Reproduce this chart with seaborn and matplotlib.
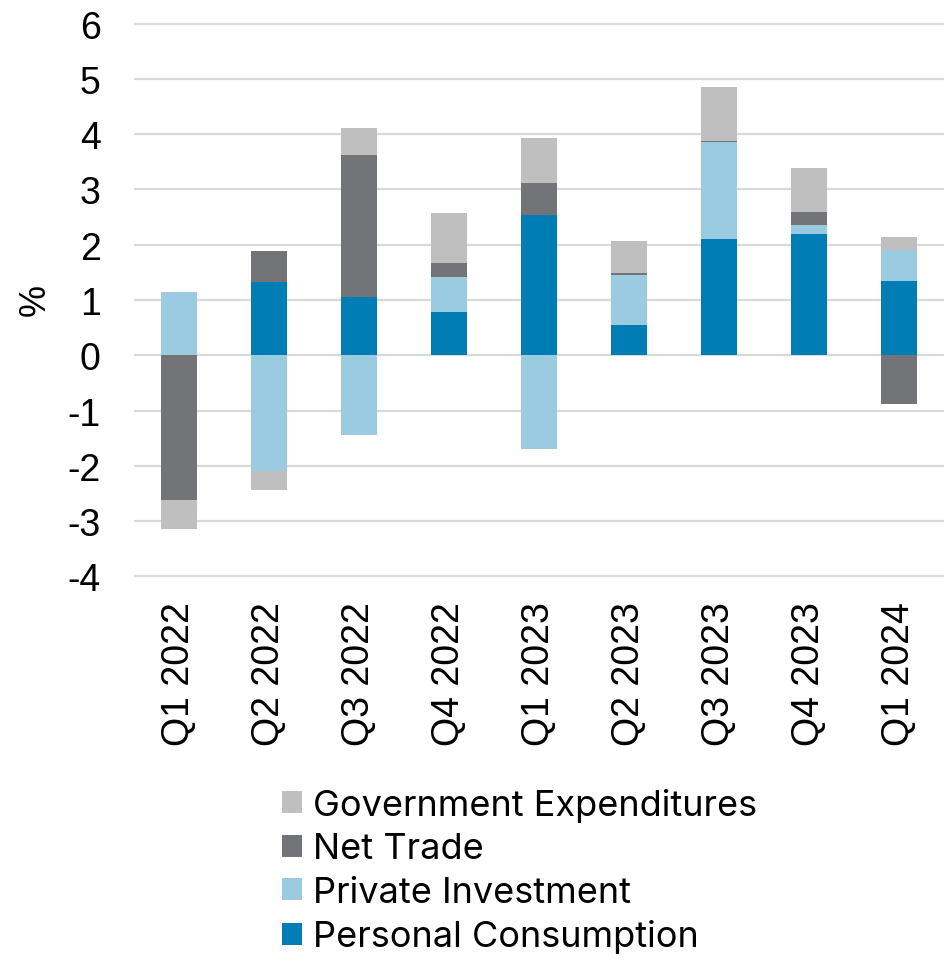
import numpy as np
import pandas as pd
import matplotlib
matplotlib.use("Agg")
import matplotlib.pyplot as plt
import seaborn as sns
from matplotlib.patches import Patch

quarters = ["Q1 2022", "Q2 2022", "Q3 2022", "Q4 2022", "Q1 2023",
            "Q2 2023", "Q3 2023", "Q4 2023", "Q1 2024"]
personal_consumption = [0.00, 1.32, 1.05, 0.79, 2.54, 0.55, 2.10, 2.20, 1.34]
private_investment = [1.15, -2.10, -1.44, 0.62, -1.69, 0.91, 1.75, 0.15, 0.57]
net_trade = [-2.62, 0.56, 2.57, 0.26, 0.57, 0.03, 0.02, 0.24, -0.88]
government_expenditures = [-0.52, -0.33, 0.50, 0.90, 0.82, 0.57, 0.99, 0.80, 0.23]

series_names = ["Personal Consumption", "Private Investment", "Net Trade",
                "Government Expenditures"]
series_values = [personal_consumption, private_investment, net_trade,
                 government_expenditures]
colors = ["#007DB4", "#9BCBE0", "#727478", "#BFBFBF"]

sns.set_theme(style="white")
plt.rcParams["font.family"] = ["Liberation Sans", "DejaVu Sans"]
plt.rcParams["text.color"] = "black"

fig = plt.figure(figsize=(9.44, 9.62), dpi=100)
W, H = 944, 962
ax = fig.add_axes([134 / W, 1 - 579 / H, (W - 134) / W, (579 - 23) / H])

pos_base = np.zeros(len(quarters))
neg_base = np.zeros(len(quarters))
for name, vals, col in zip(series_names, series_values, colors):
    v = np.array(vals, dtype=float)
    bottoms = np.where(v >= 0, pos_base, neg_base)
    df = pd.DataFrame({"quarter": quarters, "value": v})
    sns.barplot(data=df, x="quarter", y="value", order=quarters, color=col,
                saturation=1, width=0.4, errorbar=None, bottom=bottoms,
                linewidth=0, ax=ax, zorder=3)
    pos_base = pos_base + np.where(v >= 0, v, 0)
    neg_base = neg_base + np.where(v < 0, v, 0)

ax.set_ylim(-4.03, 6.03)
ax.set_yticks(range(-4, 7))
ax.set_yticklabels([str(t) for t in range(-4, 7)])
ax.grid(axis="y", color="#D9D9D9", linewidth=1.6, zorder=0)
ax.set_axisbelow(True)
for s in ax.spines.values():
    s.set_visible(False)
ax.set_xlabel("")
ax.set_ylabel("")
ax.tick_params(axis="y", length=0, pad=24, labelsize=27, labelcolor="black")
ax.tick_params(axis="x", length=0, pad=17, labelsize=27, labelcolor="black",
               labelrotation=90)
ax.set_xlim(-0.5, len(quarters) - 0.5)

fig.text(35 / W, 1 - 300 / H, "%", rotation=90, ha="center", va="center",
         fontsize=26, color="black")

handles = [Patch(facecolor=c, edgecolor="none") for c in colors][::-1]
labels = series_names[::-1]
leg = fig.legend(handles, labels, loc="upper left",
                 bbox_to_anchor=(282 / W, 1 - 789 / H),
                 frameon=False, handlelength=0.55, handleheight=0.55,
                 handletextpad=0.3, labelspacing=0.29, borderaxespad=0,
                 borderpad=0, labelcolor="black",
                 prop={"family": ["Inter", "DejaVu Sans"], "size": 26})

fig.savefig("out.png", dpi=100)
